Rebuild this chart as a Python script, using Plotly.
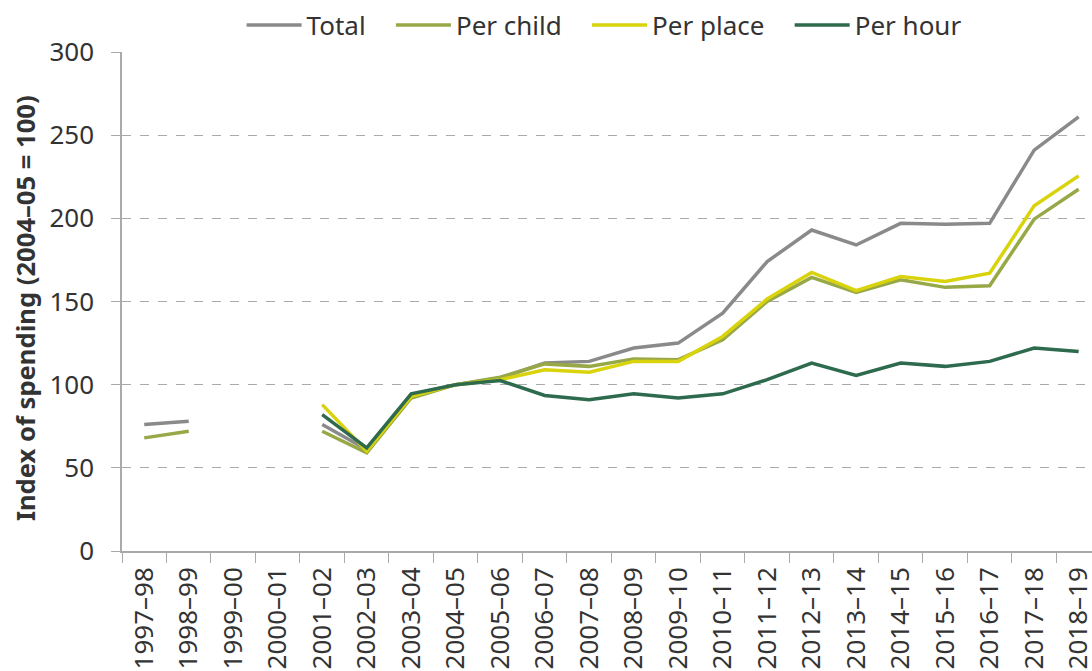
import plotly.graph_objects as go

years = ["1997–98", "1998–99", "1999–00", "2000–01", "2001–02", "2002–03", "2003–04",
         "2004–05", "2005–06", "2006–07", "2007–08", "2008–09", "2009–10", "2010–11",
         "2011–12", "2012–13", "2013–14", "2014–15", "2015–16", "2016–17", "2017–18", "2018–19"]

total = [76, 78, None, None, 76, 61, 94, 100, 104, 113, 114, 122, 125, 143,
         174, 193, 184, 197, 196.5, 197, 241, 261]
per_child = [68, 72, None, None, 72, 59, 92, 100, 104.5, 112.5, 111, 115.5, 115, 127,
             150, 164.5, 155.5, 163, 158.5, 159.5, 199.5, 217.5]
per_place = [None, None, None, None, 88, 60, 93, 100, 103, 109, 107.5, 114, 114, 129,
             151.5, 167.5, 156.5, 165, 162, 167, 207.5, 225.5]
per_hour = [None, None, None, None, 82, 62, 94.5, 100, 102.5, 93.5, 91, 94.5, 92, 94.5,
            103, 113, 105.5, 113, 111, 114, 122, 120]

series = [
    ("Total", total, "#8a8a8a"),
    ("Per child", per_child, "#97a847"),
    ("Per place", per_place, "#d9d30c"),
    ("Per hour", per_hour, "#2e6a4d"),
]

FONT = "Noto Sans, Open Sans, sans-serif"
TXT = "#333333"
PAD = "\u00a0\u00a0\u00a0"

fig = go.Figure()
for i, (name, vals, color) in enumerate(series):
    fig.add_trace(go.Scatter(
        x=years, y=vals, name=name + (PAD if i < len(series) - 1 else ""),
        mode="lines", line=dict(color=color, width=3.5),
        connectgaps=False,
    ))

fig.update_layout(
    width=1092, height=671,
    margin=dict(l=122, r=0, t=52, b=120, autoexpand=False),
    paper_bgcolor="white", plot_bgcolor="white",
    font=dict(family=FONT, size=26, color=TXT),
    showlegend=True,
    legend=dict(orientation="h", x=0.497, xanchor="center", y=1.054, yanchor="middle",
                font=dict(size=26, color=TXT), itemwidth=55,
                traceorder="normal", bgcolor="rgba(0,0,0,0)"),
    annotations=[dict(
        text="<b>Index of spending (2004–05 = 100)</b>",
        xref="paper", yref="paper", x=(26 - 122) / 970, y=0.487,
        xanchor="center", yanchor="middle", textangle=-90, showarrow=False,
        font=dict(size=25.6, color=TXT, family=FONT),
    )],
)

fig.update_xaxes(
    type="category", range=[-0.5, 21.3], automargin=False,
    tickangle=-90, tickson="boundaries", ticks="outside", ticklen=10,
    tickcolor="#aaaaaa", showline=True, linecolor="#aaaaaa", linewidth=1.5,
    showgrid=False, tickfont=dict(size=26, color=TXT), ticklabelstandoff=4,
)
fig.update_yaxes(
    range=[0, 300], tickvals=[0, 50, 100, 150, 200, 250, 300], automargin=False,
    ticks="outside", ticklen=9, tickcolor="#aaaaaa",
    showline=True, linecolor="#aaaaaa", linewidth=1.5,
    showgrid=True, gridcolor="#aaaaaa", griddash="dash", gridwidth=1,
    zeroline=False, ticklabelstandoff=12,
    tickfont=dict(size=26, color=TXT),
)

fig.write_html("out.html", config={"displayModeBar": False},
               post_script="document.body.style.margin='0';document.body.style.overflow='hidden';")
